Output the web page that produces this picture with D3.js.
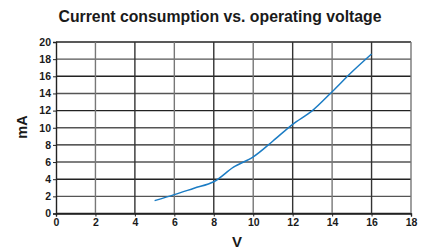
<!DOCTYPE html>
<html><head><meta charset="utf-8">
<script src="https://cdn.jsdelivr.net/npm/d3@7"></script>
<style>body{margin:0;background:#fff}svg{display:block}text{font-family:"Liberation Sans",Arial,sans-serif;font-weight:bold;fill:#1a1a1a}</style>
</head><body>
<script>
const voltage = [5, 6, 7, 8, 9, 10, 11, 12, 13, 14, 15, 16];
const current = [1.5, 2.2, 2.95, 3.7, 5.4, 6.6, 8.45, 10.4, 12.0, 14.2, 16.5, 18.6];
const xTicks = [0, 2, 4, 6, 8, 10, 12, 14, 16, 18];
const yTicks = [0, 2, 4, 6, 8, 10, 12, 14, 16, 18, 20];
const title = "Current consumption vs. operating voltage";
const xLabel = "V";
const yLabel = "mA";

const W = 422, H = 249;
const m = {left: 56, right: 11, top: 42, bottom: 35.5};
const svg = d3.select("body").append("svg").attr("width", W).attr("height", H);
const x = d3.scaleLinear().domain([0, 18]).range([m.left, W - m.right]);
const y = d3.scaleLinear().domain([0, 20]).range([H - m.bottom, m.top]);

// grid
svg.append("g").selectAll("line").data(yTicks).join("line")
  .attr("x1", x(0)).attr("x2", x(18)).attr("y1", d => y(d)).attr("y2", d => y(d))
  .attr("stroke", (d, i) => i % 2 ? "#555" : "#222").attr("stroke-width", 1.4);
svg.append("g").selectAll("line").data(xTicks.slice(1)).join("line")
  .attr("y1", y(0)).attr("y2", y(20)).attr("x1", d => x(d)).attr("x2", d => x(d))
  .attr("stroke", (d, i) => i % 2 ? "#333" : "#777").attr("stroke-width", 1.4);

// axes
const xa = svg.append("g").attr("transform", `translate(0,${y(0)})`)
  .call(d3.axisBottom(x).tickValues(xTicks).tickSize(3).tickPadding(2));
const ya = svg.append("g").attr("transform", `translate(${x(0)},0)`)
  .call(d3.axisLeft(y).tickValues(yTicks).tickSize(3).tickPadding(2));
[xa, ya].forEach(a => {
  a.select(".domain").attr("stroke", "#222").attr("stroke-width", 1.4);
  a.selectAll(".tick line").attr("stroke", "#222");
  a.selectAll("text").style("font-size", "10.5px").style("font-family", '"Liberation Sans",Arial,sans-serif').style("font-weight", "bold").attr("fill", "#1a1a1a");
});

// line
svg.append("path").datum(voltage.map((v, i) => [v, current[i]]))
  .attr("fill", "none").attr("stroke", "#1b7cc4").attr("stroke-width", 1.5)
  .attr("d", d3.line().x(d => x(d[0])).y(d => y(d[1])).curve(d3.curveCatmullRom));

// labels
svg.append("text").attr("x", 220).attr("y", 22).attr("text-anchor", "middle")
  .style("font-size", "15.8px").text(title);
svg.append("text").attr("x", 237).attr("y", 247).attr("text-anchor", "middle")
  .style("font-size", "15px").text(xLabel);
svg.append("text").attr("transform", "translate(27,127) rotate(-90)").attr("text-anchor", "middle")
  .style("font-size", "14.5px").text(yLabel);
</script>
</body></html>
